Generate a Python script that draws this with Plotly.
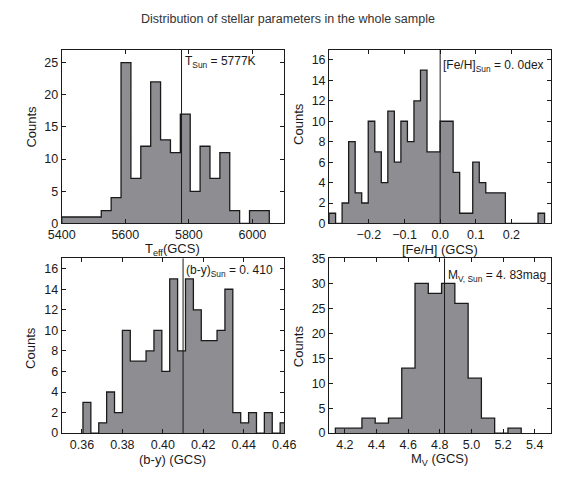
import plotly.graph_objects as go

# ---------------- data ----------------
teff_start, teff_width = 5400.0, 31.1
teff_counts = [1, 1, 1, 1, 2, 4, 25, 7, 12, 22, 13, 11, 17, 5, 12, 7, 11, 2, 0, 2, 2]

feh_start, feh_width = -0.312, 0.01834
feh_counts = [1, 0, 2, 8, 3, 2, 10, 7, 4, 11, 6, 10, 8, 12, 15, 7, 7, 10, 10, 5,
              1, 1, 6, 4, 3, 3, 3, 0, 0, 0, 0, 0, 1]

by_start, by_width = 0.3605, 0.0039
by_counts = [3, 0, 1, 4, 2, 10, 7, 7, 8, 10, 6, 15, 8, 15, 12, 9, 9, 10, 14, 2,
             1, 2, 0, 2, 0, 1]

mv_start, mv_width = 4.14, 0.0839
mv_counts = [1, 1, 3, 2, 3, 13, 30, 28, 30, 26, 11, 3, 0, 1]

sun_values = [5777, 0.0, 0.410, 4.83]
sun_labels = ["T<sub>Sun</sub> = 5777K", "[Fe/H]<sub>Sun</sub> = 0. 0dex",
              "(b-y)<sub>Sun</sub> = 0. 410", "M<sub>V, Sun</sub> = 4. 83mag"]
x_titles = ["T<sub>eff</sub>(GCS)", "[Fe/H] (GCS)", "(b-y) (GCS)", "M<sub>V</sub> (GCS)"]
x_ranges = [[5400, 6100], [-0.312, 0.31], [0.35, 0.46], [4.1, 5.5]]
x_ticks = [[5400, 5600, 5800, 6000], [-0.2, -0.1, 0.0, 0.1, 0.2],
           [0.36, 0.38, 0.40, 0.42, 0.44, 0.46], [4.2, 4.4, 4.6, 4.8, 5.0, 5.2, 5.4]]
x_formats = ["d", ".1f", ".2f", ".1f"]
y_ranges = [[0, 27], [0, 17], [0, 17], [0, 35]]
y_dticks = [5, 2, 2, 5]

W, H = 574, 477
FONT = "Liberation Sans, Arial, Helvetica, sans-serif"
FILL = "#8e8e92"

# pixel boxes (left, right, top, bottom)
boxes = [(50, 283, 44, 223), (330, 562, 44, 223), (50, 283, 259, 439), (330, 562, 259, 439)]
sun_label_y = [57, 61, 272, 277]
counts_y = [123, 121, 351, 350]

def px(x):
    return x / W

def py(y):
    return 1 - y / H

fig = go.Figure()
datasets = [(teff_start, teff_width, teff_counts), (feh_start, feh_width, feh_counts),
            (by_start, by_width, by_counts), (mv_start, mv_width, mv_counts)]

annotations = []
shapes = []
for i, (start, width, counts) in enumerate(datasets):
    n = i + 1
    s = "" if n == 1 else str(n)
    edges = [start + k * width for k in range(len(counts) + 1)]
    xs = [edges[0]] + edges[:-1] + [edges[-1]]
    ys = [0] + list(counts) + [0]
    fig.add_trace(go.Scatter(
        x=xs, y=ys, mode="lines", line=dict(shape="hv", color="#1a1a1a", width=1.3),
        fill="tozeroy", fillcolor=FILL, xaxis=f"x{s}", yaxis=f"y{s}",
        showlegend=False, hoverinfo="skip"))
    l, r, t, b = boxes[i]
    xa = dict(domain=[px(l), px(r)], range=x_ranges[i], tickvals=x_ticks[i],
              tickformat=x_formats[i], ticks="inside", ticklen=4, tickwidth=1,
              tickcolor="#1a1a1a", showline=True, linecolor="#1a1a1a", linewidth=1,
              mirror="ticks", showgrid=False, zeroline=False, anchor=f"y{s}",
              tickfont=dict(family=FONT, size=12.5, color="#1a1a1a"))
    ya = dict(domain=[py(b), py(t)], range=y_ranges[i], dtick=y_dticks[i], tick0=0,
              ticks="inside", ticklen=4, tickwidth=1, tickcolor="#1a1a1a",
              showline=True, linecolor="#1a1a1a", linewidth=1, mirror="ticks",
              showgrid=False, zeroline=False, anchor=f"x{s}",
              tickfont=dict(family=FONT, size=12.5, color="#1a1a1a"))
    fig.update_layout(**{f"xaxis{s}": xa, f"yaxis{s}": ya})
    shapes.append(dict(type="line", xref=f"x{s}", yref=f"y{s} domain",
                       x0=sun_values[i], x1=sun_values[i], y0=0, y1=1,
                       line=dict(color="#1a1a1a", width=1)))
    annotations.append(dict(xref=f"x{s}", yref="paper", x=sun_values[i], y=py(sun_label_y[i]),
                            text=sun_labels[i], showarrow=False, xanchor="left",
                            yanchor="middle", xshift=1,
                            font=dict(family=FONT, size=12, color="#1a1a1a")))
    annotations.append(dict(xref="paper", yref="paper", x=px((l + r) / 2), y=py(b + 27),
                            text=x_titles[i], showarrow=False, xanchor="center",
                            yanchor="middle",
                            font=dict(family=FONT, size=13, color="#1a1a1a")))
    annotations.append(dict(xref="paper", yref="paper", x=px(l - 32), y=py(counts_y[i]),
                            text="Counts", showarrow=False, textangle=-90,
                            xanchor="center", yanchor="middle",
                            font=dict(family=FONT, size=13, color="#1a1a1a")))

annotations.append(dict(xref="paper", yref="paper", x=0.5, y=py(12),
                        text="Distribution of stellar parameters in the whole sample",
                        showarrow=False, xanchor="center", yanchor="middle",
                        font=dict(family=FONT, size=12.5, color="#333333")))

fig.update_layout(width=W, height=H, margin=dict(l=0, r=0, t=0, b=0),
                  paper_bgcolor="white", plot_bgcolor="white",
                  annotations=annotations, shapes=shapes, showlegend=False)

fig.write_html("out.html")
